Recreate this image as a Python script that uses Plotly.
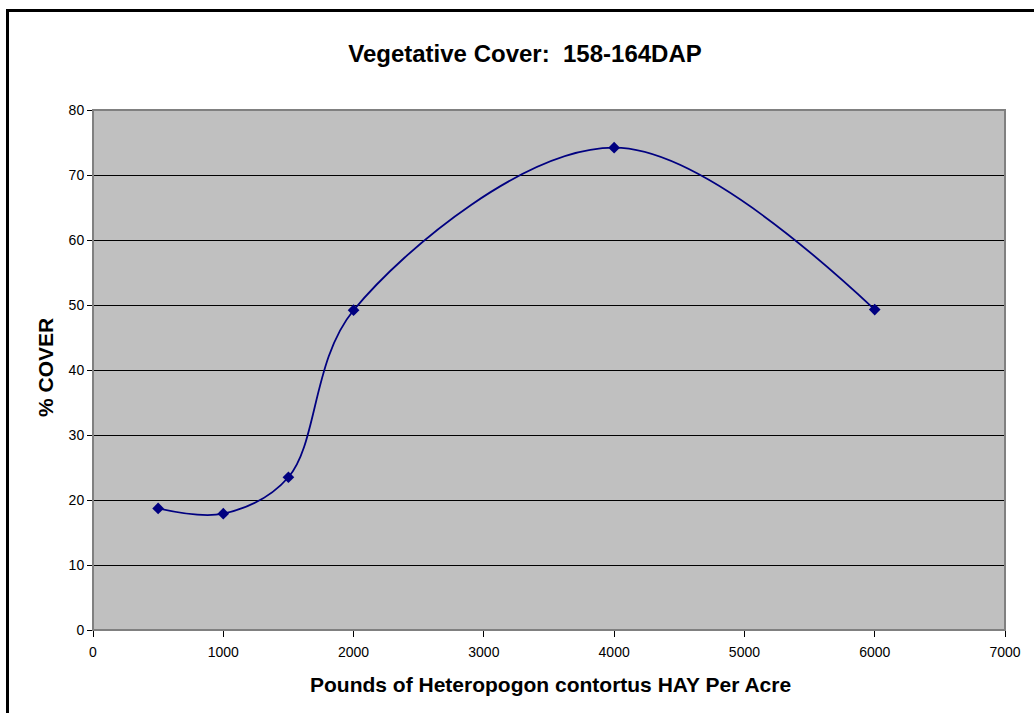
import plotly.graph_objects as go

hay_lbs = [500, 1000, 1500, 2000, 4000, 6000]
cover_pct = [18.7, 17.9, 23.5, 49.2, 74.2, 49.3]

x_ticks = [0, 1000, 2000, 3000, 4000, 5000, 6000, 7000]
y_ticks = [0, 10, 20, 30, 40, 50, 60, 70, 80]

title_text = "Vegetative Cover:  158-164DAP"
x_title = "Pounds of Heteropogon contortus HAY Per Acre"
y_title = "% COVER"

W, H = 1034, 713
L, R, T, B = 93, 29, 110, 83
pw, ph = W - L - R, H - T - B

fig = go.Figure()
fig.add_trace(go.Scatter(
    x=hay_lbs, y=cover_pct, mode="lines+markers",
    line=dict(color="#000080", width=1.8, shape="spline", smoothing=1),
    marker=dict(symbol="diamond", size=9, color="#000080"),
    showlegend=False, hoverinfo="x+y",
))

font_family = "Liberation Sans, Arial, sans-serif"

fig.update_layout(
    width=W, height=H,
    margin=dict(l=L, r=R, t=T, b=B),
    paper_bgcolor="white",
    plot_bgcolor="#C0C0C0",
    font=dict(family=font_family, size=14, color="black"),
    title=dict(text="<b>" + title_text + "</b>", x=525 / W, xref="container", xanchor="center",
               y=1 - 54 / H, yref="container", yanchor="middle",
               font=dict(size=24, family=font_family, color="black")),
    xaxis=dict(range=[0, 7000], tickvals=x_ticks, ticks="outside", ticklen=6, tickcolor="black",
               showgrid=False, zeroline=False, showline=True, linecolor="black", linewidth=1,
               tickfont=dict(size=14), ticklabelstandoff=3, fixedrange=True),
    yaxis=dict(range=[0, 80], tickvals=y_ticks, ticks="outside", ticklen=5, tickcolor="black",
               showgrid=True, gridcolor="black", gridwidth=1, zeroline=False,
               showline=True, linecolor="#404040", linewidth=1,
               tickfont=dict(size=14), fixedrange=True),
)

# plot area border (grey)
fig.add_shape(type="rect", xref="paper", yref="paper", x0=0, y0=0, x1=1, y1=1,
              line=dict(color="#808080", width=2), layer="above")

# outer chart border
fig.add_shape(type="rect", xref="paper", yref="paper",
              x0=(7.5 - L) / pw, x1=(W + 10 - L) / pw,
              y0=-(H + 10 - T - ph) / ph, y1=1 + (T - 10.5) / ph,
              line=dict(color="black", width=3), layer="above")

fig.add_annotation(text="<b>" + x_title + "</b>", xref="paper", yref="paper",
                   x=(550 - L) / pw, y=-(684 - T - ph) / ph, showarrow=False,
                   xanchor="center", yanchor="middle",
                   font=dict(size=21, family=font_family, color="black"))
fig.add_annotation(text="<b>" + y_title + "</b>", xref="paper", yref="paper",
                   x=(45 - L) / pw, y=1 - (368 - T) / ph, showarrow=False, textangle=-90,
                   xanchor="center", yanchor="middle",
                   font=dict(size=21, family=font_family, color="black"))

fig.write_html("out.html", config={"displayModeBar": False},
               post_script="document.body.style.margin='0';")
